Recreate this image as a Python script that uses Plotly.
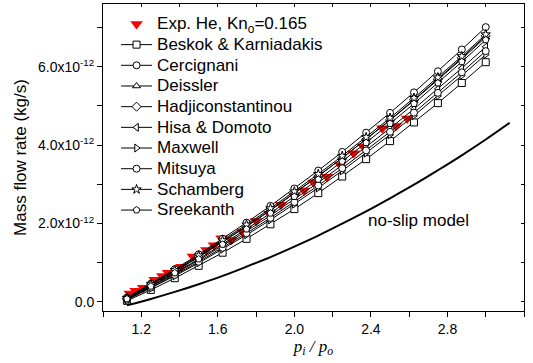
import plotly.graph_objects as go

# ---- data (mass flow rate in units of 1e-12 kg/s) ----
pr = [1.125, 1.25, 1.375, 1.5, 1.625, 1.75, 1.875, 2.0, 2.125, 2.25, 2.375, 2.5, 2.625, 2.75, 2.875, 3.0]

beskok = [0.030, 0.308, 0.607, 0.922, 1.257, 1.611, 1.981, 2.369, 2.777, 3.200, 3.643, 4.103, 4.579, 5.072, 5.585, 6.115]
cercignani = [0.112, 0.466, 0.835, 1.215, 1.612, 2.025, 2.451, 2.894, 3.352, 3.827, 4.318, 4.824, 5.346, 5.884, 6.439, 7.010]
deissler = [0.098, 0.438, 0.793, 1.158, 1.540, 1.935, 2.346, 2.772, 3.214, 3.672, 4.145, 4.634, 5.139, 5.661, 6.199, 6.752]
hadji = [0.091, 0.427, 0.778, 1.143, 1.524, 1.922, 2.335, 2.764, 3.209, 3.671, 4.150, 4.644, 5.155, 5.683, 6.228, 6.788]
hisa = [0.072, 0.389, 0.721, 1.068, 1.431, 1.810, 2.205, 2.618, 3.045, 3.491, 3.952, 4.429, 4.924, 5.435, 5.963, 6.507]
maxwell = [0.051, 0.349, 0.664, 0.995, 1.344, 1.711, 2.093, 2.494, 2.911, 3.346, 3.798, 4.266, 4.751, 5.254, 5.774, 6.310]
mitsuya = [0.060, 0.367, 0.690, 1.027, 1.383, 1.755, 2.144, 2.548, 2.971, 3.411, 3.866, 4.339, 4.829, 5.334, 5.857, 6.398]
schamberg = [0.106, 0.453, 0.813, 1.185, 1.571, 1.972, 2.387, 2.818, 3.263, 3.725, 4.202, 4.694, 5.203, 5.727, 6.268, 6.825]
sreekanth = [0.077, 0.400, 0.740, 1.095, 1.467, 1.858, 2.263, 2.687, 3.126, 3.585, 4.059, 4.550, 5.058, 5.582, 6.125, 6.683]

exp_x = [1.14, 1.17, 1.21, 1.27, 1.31, 1.34, 1.41, 1.47, 1.54, 1.58, 1.62, 1.67, 1.73, 1.80, 1.87, 1.93,
         2.00, 2.05, 2.10, 2.17, 2.24, 2.31, 2.36, 2.46, 2.53, 2.59]
exp_y = [0.218, 0.285, 0.363, 0.564, 0.665, 0.743, 0.900, 1.157, 1.325, 1.448, 1.627, 1.582, 1.783, 2.063,
         2.253, 2.477, 2.700, 2.846, 3.047, 3.192, 3.494, 3.796, 3.964, 4.434, 4.490, 4.680]

noslip_x = [1.125, 1.25, 1.375, 1.5, 1.625, 1.75, 1.875, 2.0, 2.125, 2.25, 2.375, 2.5, 2.625, 2.75, 2.875, 3.0, 3.125]
noslip_y = [-0.084, 0.078, 0.257, 0.453, 0.665, 0.900, 1.146, 1.414, 1.694, 1.996, 2.309, 2.645, 2.991, 3.360,
            3.741, 4.143, 4.568]

ytick_vals = [0, 2, 4, 6]
ytick_text = ["0.0", "2.0x10<sup>-12</sup>", "4.0x10<sup>-12</sup>", "6.0x10<sup>-12</sup>"]
xtick_vals = [1.2, 1.6, 2.0, 2.4, 2.8, 3.2]
xtick_text = ["1.2", "1.6", "2.0", "2.4", "2.8", "3.2"]

models = [
    ("Beskok & Karniadakis", beskok, "square"),
    ("Cercignani", cercignani, "circle"),
    ("Deissler", deissler, "triangle-up"),
    ("Hadjiconstantinou", hadji, "diamond"),
    ("Hisa & Domoto", hisa, "triangle-left"),
    ("Maxwell", maxwell, "triangle-right"),
    ("Mitsuya", mitsuya, "circle"),
    ("Schamberg", schamberg, "star"),
    ("Sreekanth", sreekanth, "pentagon"),
]

FONT = "Liberation Sans, Arial, sans-serif"


def big(t):
    return '<span style="font-size:17px">' + t + '</span>'


fig = go.Figure()

fig.add_trace(go.Scatter(
    x=exp_x, y=exp_y, mode="markers", name=big("Exp. He, Kn<sub>o</sub>=0.165"),
    marker=dict(symbol="triangle-down", size=11, color="#ff0000", line=dict(width=0)),
))

for name, vals, sym in models:
    fig.add_trace(go.Scatter(
        x=pr, y=vals, mode="lines+markers", name=big(name),
        line=dict(color="black", width=1),
        marker=dict(symbol=sym, size=7, color="white", line=dict(color="black", width=1)),
    ))

fig.add_trace(go.Scatter(
    x=noslip_x, y=noslip_y, mode="lines", showlegend=False,
    line=dict(color="black", width=2, shape="spline"),
))

# dummy trace for mirrored top/right axes
fig.add_trace(go.Scatter(x=[None], y=[None], xaxis="x2", yaxis="y2", showlegend=False, hoverinfo="skip"))

fig.add_annotation(x=2.65, y=2.09, text="no-slip model", showarrow=False,
                   font=dict(family=FONT, size=17, color="black"))

fig.update_layout(
    width=533, height=363,
    margin=dict(l=103, r=9, t=4, b=52),
    paper_bgcolor="white", plot_bgcolor="white",
    font=dict(family=FONT, size=14, color="black"),
    showlegend=True,
    legend=dict(x=0.031, y=0.985, xanchor="left", yanchor="top",
                bgcolor="rgba(0,0,0,0)", borderwidth=0,
                font=dict(family=FONT, size=13.6, color="black"),
                itemwidth=31, tracegroupgap=0),
    xaxis=dict(range=[1.0, 3.2], showgrid=False, zeroline=False,
               showline=True, linecolor="black", linewidth=1,
               ticks="outside", ticklen=5, tickcolor="black",
               tickvals=xtick_vals, ticktext=xtick_text,
               minor=dict(tickvals=[1.0, 1.4, 1.8, 2.2, 2.6, 3.0], ticks="outside", ticklen=5, tickcolor="black"),
               tickfont=dict(family=FONT, size=14, color="black"),
               title=dict(text="<i>p<sub>i</sub> / p<sub>o</sub></i>",
                          font=dict(family="Liberation Serif, Times New Roman, serif", size=17, color="black"),
                          standoff=1)),
    yaxis=dict(range=[-0.23, 7.6], showgrid=False, zeroline=False,
               showline=True, linecolor="black", linewidth=1,
               ticks="outside", ticklen=5, tickcolor="black",
               tickvals=ytick_vals, ticktext=ytick_text,
               minor=dict(tickvals=[1, 3, 5, 7], ticks="outside", ticklen=5, tickcolor="black"),
               tickfont=dict(family=FONT, size=14, color="black"),
               title=dict(text="Mass flow rate (kg/s)", font=dict(family=FONT, size=17, color="black"),
                          standoff=7)),
    xaxis2=dict(overlaying="x", side="top", anchor="y", range=[1.0, 3.2], showgrid=False, zeroline=False,
                showline=True, linecolor="black", linewidth=1,
                ticks="inside", ticklen=3, tickcolor="black",
                tickvals=[1.0, 1.2, 1.4, 1.6, 1.8, 2.0, 2.2, 2.4, 2.6, 2.8, 3.0, 3.2], showticklabels=False),
    yaxis2=dict(overlaying="y", side="right", anchor="x", range=[-0.23, 7.6], showgrid=False, zeroline=False,
                showline=True, linecolor="black", linewidth=1,
                ticks="inside", ticklen=3, tickcolor="black",
                tickvals=[0, 1, 2, 3, 4, 5, 6, 7], showticklabels=False),
)

fig.write_html("out.html")
